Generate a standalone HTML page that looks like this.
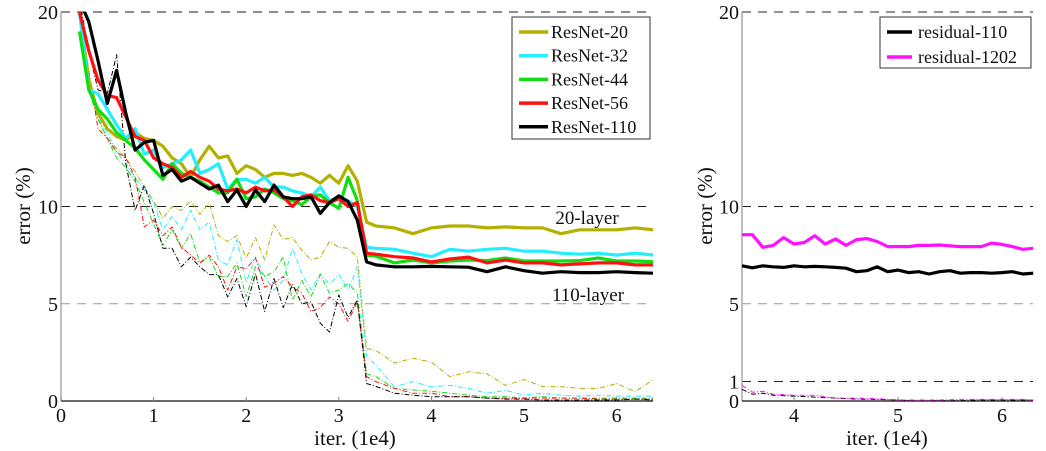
<!DOCTYPE html>
<html><head><meta charset="utf-8"><style>
html,body{margin:0;padding:0;background:#fff;}
svg{display:block;font-family:"Liberation Serif",serif;}
</style></head><body>
<svg id="fig" width="1046" height="451" viewBox="0 0 1046 451" xmlns="http://www.w3.org/2000/svg">
<g id="left"></g>
<g id="right"></g>
</svg>
<script>
// ---- left chart data ----
const itersL = [0.2,0.3,0.4,0.5,0.6,0.7,0.8,0.9,1.0,1.1,1.2,1.3,1.4,1.5,1.6,1.7,1.8,1.9,2.0,2.1,2.2,2.3,2.4,2.5,2.6,2.7,2.8,2.9,3.0,3.1,3.2,3.3,3.4,3.6,3.8,4.0,4.2,4.4,4.6,4.8,5.0,5.2,5.4,5.6,5.8,6.0,6.2,6.4];
const seriesNames = ["ResNet-20","ResNet-32","ResNet-44","ResNet-56","ResNet-110"];
const train20 = [20,16.5,14.8,14.0,13.6,13.4,13.8,13.5,13.4,13.1,12.5,12.2,11.5,12.4,13.1,12.5,12.6,11.7,12.1,11.9,11.5,11.7,11.7,11.6,11.7,11.5,11.2,11.6,11.2,12.1,11.3,9.2,9.0,8.9,8.6,8.9,9.0,9.0,8.9,8.95,8.9,8.9,8.6,8.8,8.8,8.8,8.9,8.8];
const train32 = [20,16,15.8,15.0,14.2,13.5,14.0,12.7,12.9,12.0,12.2,12.4,12.9,11.7,11.9,12.2,10.9,11.4,11.4,11.2,11.5,11.0,11.0,10.8,10.7,10.5,11.0,10.3,10.5,10.3,10.0,7.9,7.85,7.8,7.6,7.42,7.8,7.7,7.8,7.85,7.7,7.7,7.6,7.55,7.6,7.5,7.6,7.5];
const train44 = [19,16,15,14.5,13.8,13.4,13.0,12.4,11.9,11.4,12.2,11.7,11.5,11.3,11.0,10.7,10.7,11.4,10.4,10.5,10.9,10.7,10.4,10.3,10.1,10.5,10.6,10.2,9.9,11.5,10.3,7.5,7.45,7.1,7.25,7.1,7.2,7.25,7.22,7.35,7.2,7.2,7.2,7.22,7.35,7.2,7.2,7.16];
const train56 = [20,18,16.5,15.7,15.6,14.6,13.6,13.4,12.5,12.2,12.0,11.5,11.8,11.5,11.3,10.9,10.8,10.9,10.7,11.0,10.8,10.85,10.5,10.0,10.5,10.6,10.3,10.2,10.4,10.0,10.2,7.6,7.55,7.42,7.35,7.15,7.3,7.4,7.1,7.25,7.1,7.1,7.0,7.05,7.1,7.1,7.0,7.0];
const train110 = [21,19.5,17.5,15.3,17.0,14.8,12.9,13.3,13.4,11.6,11.9,11.3,11.5,11.2,10.9,11.1,10.25,10.85,10.0,10.85,10.25,11.1,10.5,10.4,10.4,10.5,9.65,10.2,10.55,10.25,9.3,7.15,7.0,6.9,6.9,6.92,6.9,6.88,6.65,6.9,6.7,6.57,6.65,6.6,6.6,6.65,6.6,6.57];
const test20 = [20,16,14.5,13.5,13,12.5,11.8,11.0,10.3,9.4,10.0,9.8,10.3,9.6,10.2,8.5,8.2,8.5,7.35,8.4,7.25,9.05,8.3,8.4,7.75,7.25,7.4,8.2,7.9,7.85,7.4,2.7,2.6,1.95,2.2,2.0,1.25,1.5,1.4,0.8,1.1,0.74,0.74,0.65,0.65,0.9,0.48,1.1];
const test32 = [20,16,14.6,13.8,12.8,12.2,11.5,10.85,10.2,8.8,9.5,8.8,9.8,8.8,9.2,7.25,7.0,8.3,6.1,7.4,6.4,5.7,6.2,7.85,6.55,5.7,6.55,6.0,6.5,5.7,6.9,2.3,1.85,0.73,1.0,0.73,0.8,0.65,0.4,0.55,0.3,0.4,0.3,0.25,0.3,0.25,0.25,0.25];
const test44 = [19,16,14.5,13.5,12.5,12,11.3,10.2,9.1,8.0,8.8,7.85,8.6,7.1,7.4,6.4,6.4,7.1,5.35,6.9,6.4,6.65,7.4,5.2,6.2,5.35,6.5,5.55,5.7,6.05,5.55,1.4,1.25,0.65,0.57,0.5,0.4,0.3,0.22,0.22,0.15,0.22,0.15,0.15,0.15,0.15,0.15,0.15];
const test56 = [20,17,14,13.5,12.8,12.5,11.5,8.95,9.3,8.5,8.95,7.9,7.5,7.1,7.5,6.9,5.7,6.9,6.8,7.35,5.85,6.05,6.4,5.85,5.55,4.6,4.8,5.35,5.0,4.1,5.1,1.25,1.0,0.65,0.4,0.4,0.22,0.22,0.15,0.15,0.15,0.15,0.15,0.15,0.1,0.1,0.1,0.1];
const test110 = [21,18,16,15.8,17.8,12.2,9.8,11.1,9.65,7.85,7.85,6.9,7.4,6.9,6.5,6.5,5.35,6.3,4.85,6.55,4.6,6.3,4.8,6.0,5.0,5.1,4.0,3.55,5.45,4.3,5.2,0.9,0.75,0.4,0.3,0.22,0.22,0.22,0.15,0.1,0.1,0.05,0.05,0.05,0.05,0.05,0.1,0.05];
// ---- right chart data ----
const itersR = [3.5,3.6,3.7,3.8,3.9,4.0,4.1,4.2,4.3,4.4,4.5,4.6,4.7,4.8,4.9,5.0,5.1,5.2,5.3,5.4,5.5,5.6,5.7,5.8,5.9,6.0,6.1,6.2,6.3];
const res1202 = [8.55,8.55,7.9,8.0,8.4,8.07,8.15,8.5,8.07,8.33,8.0,8.3,8.35,8.2,7.94,7.94,7.94,8.0,8.0,8.02,7.98,7.94,7.94,7.94,8.12,8.05,7.94,7.8,7.85];
const res110 = [6.95,6.85,6.95,6.9,6.87,6.95,6.9,6.92,6.9,6.87,6.83,6.65,6.7,6.9,6.65,6.73,6.6,6.65,6.53,6.65,6.7,6.57,6.6,6.6,6.57,6.6,6.65,6.53,6.57];
const itersRT = [3.5,3.6,3.7,3.8,4.0,4.2,4.4,4.6,4.8,5.0,5.2,5.4,5.6,5.8,6.0,6.2,6.3];
const res1202Test = [0.8,0.45,0.5,0.35,0.3,0.3,0.15,0.15,0.12,0.05,0.05,0.05,0.08,0.08,0.08,0.08,0.05];
const res110Test = [0.6,0.35,0.4,0.3,0.25,0.2,0.15,0.1,0.08,0.05,0.0,0.02,0.02,0.05,0.05,0.05,0.05];
const xTicksL = [0,1,2,3,4,5,6];
const xTicksR = [4,5,6];
const yTicksL = [0,5,10,20];
const yTicksR = [0,1,5,10,20];

const NS = "http://www.w3.org/2000/svg";
function mk(parent, tag, attrs){const e=document.createElementNS(NS,tag);for(const k in attrs)e.setAttribute(k,attrs[k]);parent.appendChild(e);return e;}
const yS = v => 401 - v*19.45;
const xL = v => 61 + v*92.6;
const xR = v => 742 + (v-3.5)*104;

function drawFrame(g, x0, x1, xs, xT, yT, darkGrid, grayGrid){
  const all = darkGrid.concat(grayGrid);
  all.forEach(v=>{
    const ln = mk(g,"line",{x1:x0,x2:x1,y1:yS(v),y2:yS(v),stroke:grayGrid.includes(v)?"#999":"#222","stroke-width":1,"stroke-dasharray":"9,7"});
    
    
  });
  const ya = mk(g,"line",{x1:x0,x2:x0,y1:12,y2:401,stroke:"#aaa","stroke-width":1.5});
  
  
  const xa = mk(g,"line",{x1:x0,x2:x1,y1:401,y2:401,stroke:"#111","stroke-width":1.2});
  
  
  yT.forEach(v=>{
    const t = mk(g,"text",{x:x0-3,y:yS(v)+7,"text-anchor":"end","font-size":20,fill:"#111"});
    t.textContent = v;
    
    
  });
  xT.forEach(v=>{
    const tk = mk(g,"line",{x1:xs(v),x2:xs(v),y1:397,y2:401,stroke:"#888"});
    
    
    const t = mk(g,"text",{x:xs(v),y:422,"text-anchor":"middle","font-size":20,fill:"#111"});
    t.textContent = v;
    
    
  });
}
function line(g, xs, xv, yv, color, w, dash, name){
  const d = xv.map((x,i)=>(i?"L":"M")+xs(x).toFixed(1)+","+yS(Math.min(yv[i],20.6)).toFixed(1)).join("");
  const p = mk(g,"path",{d:d,fill:"none",stroke:color,"stroke-width":w,"stroke-linejoin":"round"});
  if(dash) p.setAttribute("stroke-dasharray",dash);
  
  
}
const colors = ["#b3b000","#22eeff","#11dd11","#ff1111","#000000"];
const L = document.getElementById("left");
drawFrame(L,61,653,xL,xTicksL,yTicksL,[20,10],[5]);
const clipL = mk(document.getElementById("fig"),"clipPath",{id:"cl"});
mk(clipL,"rect",{x:61,y:12,width:592,height:390});
const gl = mk(L,"g",{"clip-path":"url(#cl)"});
const tests=[test20,test32,test44,test56,test110], trains=[train20,train32,train44,train56,train110];
tests.forEach((s,i)=>line(gl,xL,itersL,s,colors[i],1,"5,2,1,2","test-curve-"+seriesNames[i].toLowerCase()));
trains.forEach((s,i)=>line(gl,xL,itersL,s,colors[i],3.2,null,"train-curve-"+seriesNames[i].toLowerCase()));
const lgL = mk(L,"g",{});


mk(lgL,"rect",{x:512,y:17,width:138,height:122,fill:"#fff",stroke:"#333","stroke-width":1});
seriesNames.forEach((n,i)=>{
  const y=32+i*23.7;
  const ln=mk(lgL,"line",{x1:519,x2:548,y1:y,y2:y,stroke:colors[i],"stroke-width":3.5});
  
  
  const t=mk(lgL,"text",{x:551,y:y+6,"font-size":18,fill:"#111"});
  t.textContent=n;
  
  
});
const a1=mk(L,"text",{x:587,y:224,"text-anchor":"middle","font-size":19,fill:"#111"});a1.textContent="20-layer";


const a2=mk(L,"text",{x:588,y:301,"text-anchor":"middle","font-size":19,fill:"#111"});a2.textContent="110-layer";


const xlL=mk(L,"text",{x:355,y:445,"text-anchor":"middle","font-size":21,fill:"#111"});xlL.textContent="iter. (1e4)";


const ylL=mk(L,"text",{x:0,y:0,"text-anchor":"middle","font-size":21,fill:"#111",transform:"translate(30,206) rotate(-90)"});ylL.textContent="error (%)";



const R = document.getElementById("right");
drawFrame(R,742,1033,xR,xTicksR,yTicksR,[20,10,1],[5]);
const rc=["#000000","#ff11ff"], rn=["residual-110","residual-1202"];
line(R,xR,itersRT,res110Test,rc[0],1,"5,2,1,2","test-curve-residual-110");
line(R,xR,itersRT,res1202Test,rc[1],1,"5,2,1,2","test-curve-residual-1202");
line(R,xR,itersR,res110,rc[0],3.2,null,"train-curve-residual-110");
line(R,xR,itersR,res1202,rc[1],3.2,null,"train-curve-residual-1202");
const lgR = mk(R,"g",{});


mk(lgR,"rect",{x:880,y:17,width:151,height:51,fill:"#fff",stroke:"#333","stroke-width":1});
rn.forEach((n,i)=>{
  const y=32+i*25;
  const ln=mk(lgR,"line",{x1:887,x2:912,y1:y,y2:y,stroke:rc[i],"stroke-width":3.5});
  
  
  const t=mk(lgR,"text",{x:918,y:y+6,"font-size":18,fill:"#111"});
  t.textContent=n;
  
  
});
const xlR=mk(R,"text",{x:887,y:445,"text-anchor":"middle","font-size":21,fill:"#111"});xlR.textContent="iter. (1e4)";


const ylR=mk(R,"text",{x:0,y:0,"text-anchor":"middle","font-size":21,fill:"#111",transform:"translate(712,206) rotate(-90)"});ylR.textContent="error (%)";


</script>
</body></html>
